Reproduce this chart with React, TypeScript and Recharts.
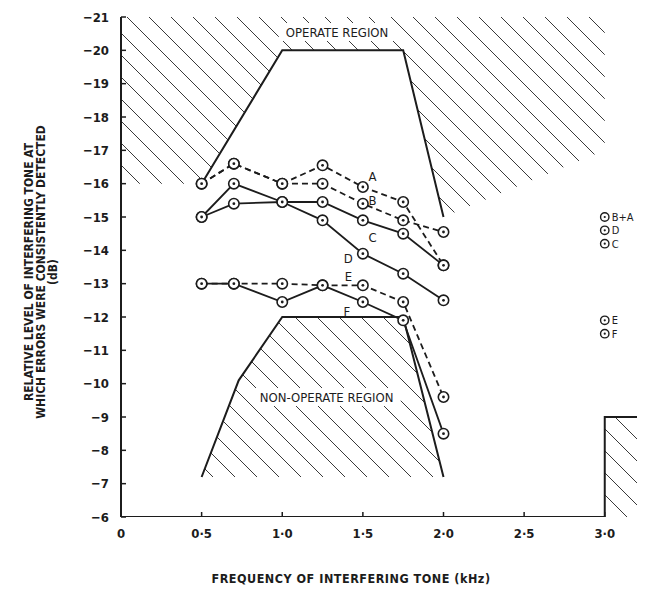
import { ComposedChart, Line, Area, XAxis, YAxis } from "recharts";

const INK = "#1c1c1c";
const FONT = "'DejaVu Sans Condensed', 'DejaVu Sans', sans-serif";

// measured frequencies (kHz)
const freqs = [0.5, 0.7, 1.0, 1.25, 1.5, 1.75, 2.0];

// level (dB) at which errors were consistently detected
const levelA = [-16, -16.6, -16, -16.55, -15.9, -15.45, -13.55];
const levelB = [-16, -16.6, -16, -16, -15.4, -14.9, -14.55];
const levelC = [-15, -15.4, -15.45, -15.45, -14.9, -14.5, -13.55];
const levelD = [-15, -16, -15.45, -14.9, -13.9, -13.3, -12.5];
const levelE = [-13, -13, -13, -12.95, -12.95, -12.45, -9.6];
const levelF = [-13, -13, -12.45, -12.95, -12.45, -11.9, -8.5];

// points at 3 kHz
const sideNames = ["B+A", "D", "C", "E", "F"];
const sideX = [3.0, 3.0, 3.0, 3.0, 3.0];
const sideY = [-15.0, -14.6, -14.2, -11.9, -11.5];

// curve letters
const letterNames = ["A", "B", "C", "D", "E", "F"];
const letterX = [1.56, 1.56, 1.56, 1.41, 1.41, 1.4];
const letterY = [-16.23, -15.49, -14.39, -13.76, -13.23, -12.16];

// region boundaries
const operateX = [0.5, 1.0, 1.75, 2.0];
const operateY = [-16, -20, -20, -15];
const upperHatchX = [0, 0.5, 1.0, 1.75, 2.0, 3.0];
const upperHatchY = [-16, -16, -20, -20, -15, -17];
const upperHatchTop = -21;
const nonOperateX = [0.5, 0.73, 1.0, 1.75, 2.0];
const nonOperateY = [-7.2, -10.1, -12, -12, -7.2];
const nonOperateBase = -7.2;
const stepX = [0, 3.0, 3.0, 3.2];
const stepY = [-6, -6, -9, -9];
const cornerX = [3.0, 3.2];
const cornerY = [-9, -9];
const cornerBase = -6;

const regionNames = ["OPERATE REGION", "NON-OPERATE REGION"];
const regionX = [1.34, 1.275];
const regionY = [-20.55, -9.6];

const xTicks = [0, 0.5, 1.0, 1.5, 2.0, 2.5, 3.0];
const yTicks = [-21, -20, -19, -18, -17, -16, -15, -14, -13, -12, -11, -10, -9, -8, -7, -6];

const pts = (xs: number[], ys: number[]) => xs.map((x, i) => ({ x, y: ys[i] }));
const band = (xs: number[], ys: number[], base: number) =>
  xs.map((x, i) => ({ x, range: [base, ys[i]] }));

const ringDot = (props: any) => {
  const { cx, cy, index } = props;
  if (cx == null || cy == null) return <g key={`n-${index}`} />;
  return (
    <g key={`r-${index}`}>
      <circle cx={cx} cy={cy} r={5.2} fill="#fff" stroke={INK} strokeWidth={1.6} />
      <circle cx={cx} cy={cy} r={1.4} fill={INK} />
    </g>
  );
};

const sideDot = (props: any) => {
  const { cx, cy, index, payload } = props;
  return (
    <g key={`s-${index}`}>
      <circle cx={cx} cy={cy} r={4.2} fill="#fff" stroke={INK} strokeWidth={1.4} />
      <circle cx={cx} cy={cy} r={1.1} fill={INK} />
      <text x={cx + 7} y={cy} dy="0.36em" fontSize={11} fontFamily={FONT} fill={INK}>
        {payload.name}
      </text>
    </g>
  );
};

const letterDot = (props: any) => {
  const { cx, cy, index, payload } = props;
  return (
    <text key={`l-${index}`} x={cx} y={cy} dy="0.36em" textAnchor="middle" fontSize={13} fontFamily={FONT} fill={INK}>
      {payload.name}
    </text>
  );
};

const regionDot = (props: any) => {
  const { cx, cy, index, payload } = props;
  const w = payload.name.length * 7.9 + 6;
  return (
    <g key={`g-${index}`}>
      <rect x={cx - w / 2} y={cy - 9} width={w} height={18} fill="#fff" />
      <text x={cx} y={cy} dy="0.36em" textAnchor="middle" fontSize={13} fontFamily={FONT} fill={INK}>
        {payload.name}
      </text>
    </g>
  );
};

const renderYTick = (props: any) => {
  const { x, y, payload } = props;
  return (
    <g key={`yt-${payload.value}`}>
      <line x1={x} y1={y} x2={x + 5} y2={y} stroke={INK} strokeWidth={1.5} />
      <text x={x - 12} y={y} dy="0.36em" textAnchor="end" fontSize={13} fontWeight="bold" fontFamily={FONT} fill={INK}>
        {`\u2212${Math.abs(payload.value)}`}
      </text>
    </g>
  );
};

const renderXTick = (props: any) => {
  const { x, y, payload } = props;
  const v = payload.value;
  const label = v === 0 ? "0" : v.toFixed(1).replace(".", "\u00b7");
  return (
    <g key={`xt-${v}`}>
      <line x1={x} y1={y} x2={x} y2={y - 5} stroke={INK} strokeWidth={1.5} />
      <text x={x} y={y + 16} dy="0.36em" textAnchor="middle" fontSize={13} fontWeight="bold" fontFamily={FONT} fill={INK}>
        {label}
      </text>
    </g>
  );
};

export default function App() {
  const series = [
    { key: "A", ys: levelA, dash: "6 4" },
    { key: "B", ys: levelB, dash: "6 4" },
    { key: "C", ys: levelC, dash: undefined },
    { key: "D", ys: levelD, dash: undefined },
    { key: "E", ys: levelE, dash: "6 4" },
    { key: "F", ys: levelF, dash: undefined },
  ];
  const sideData = sideNames.map((name, i) => ({ name, x: sideX[i], y: sideY[i] }));
  const letterData = letterNames.map((name, i) => ({ name, x: letterX[i], y: letterY[i] }));
  const regionData = regionNames.map((name, i) => ({ name, x: regionX[i], y: regionY[i] }));

  return (
    <div style={{ position: "relative", width: 637, height: 581, fontFamily: FONT, color: INK }}>
      <ComposedChart width={637} height={581} margin={{ top: 9, right: 8, bottom: 0, left: 0 }}>
        <defs>
          <pattern id="hatch" patternUnits="userSpaceOnUse" width={22} height={22}>
            <path d="M-2,-2 L24,24 M-2,20 L2,24 M20,-2 L24,2" stroke="#3a3a3a" strokeWidth={1} />
          </pattern>
        </defs>
        <XAxis
          type="number"
          dataKey="x"
          domain={[0, 3.2]}
          ticks={xTicks}
          axisLine={false}
          tickLine={false}
          tickSize={0}
          tickMargin={0}
          height={72}
          tick={renderXTick}
          allowDataOverflow
        />
        <YAxis
          type="number"
          domain={[-21, -6]}
          reversed
          ticks={yTicks}
          width={113}
          axisLine={{ stroke: INK, strokeWidth: 2 }}
          tickLine={false}
          tickSize={0}
          tickMargin={0}
          tick={renderYTick}
          interval={0}
          allowDataOverflow
        />
        <Area data={band(upperHatchX, upperHatchY, upperHatchTop)} dataKey="range" type="linear" stroke="none" fill="url(#hatch)" fillOpacity={1} isAnimationActive={false} />
        <Area data={band(nonOperateX, nonOperateY, nonOperateBase)} dataKey="range" type="linear" stroke="none" fill="url(#hatch)" fillOpacity={1} isAnimationActive={false} />
        <Area data={band(cornerX, cornerY, cornerBase)} dataKey="range" type="linear" stroke="none" fill="url(#hatch)" fillOpacity={1} isAnimationActive={false} />
        <Line data={regionData} dataKey="y" stroke="none" dot={regionDot} activeDot={false} isAnimationActive={false} />
        <Line data={pts(operateX, operateY)} dataKey="y" type="linear" stroke={INK} strokeWidth={2} dot={false} isAnimationActive={false} />
        <Line data={pts(nonOperateX, nonOperateY)} dataKey="y" type="linear" stroke={INK} strokeWidth={2} dot={false} isAnimationActive={false} />
        <Line data={pts(stepX, stepY)} dataKey="y" type="linear" stroke={INK} strokeWidth={2} dot={false} isAnimationActive={false} />
        {series.map((s) => (
          <Line
            key={s.key}
            data={pts(freqs, s.ys)}
            dataKey="y"
            type="linear"
            stroke={INK}
            strokeWidth={1.8}
            strokeDasharray={s.dash}
            dot={ringDot}
            activeDot={false}
            isAnimationActive={false}
          />
        ))}
        <Line data={letterData} dataKey="y" stroke="none" dot={letterDot} activeDot={false} isAnimationActive={false} />
        <Line data={sideData} dataKey="y" stroke="none" dot={sideDot} activeDot={false} isAnimationActive={false} />
      </ComposedChart>
      <div
        style={{
          position: "absolute",
          left: 33,
          top: 264,
          transform: "translate(-50%, -50%) rotate(-90deg)",
          whiteSpace: "nowrap",
          textAlign: "center",
          fontSize: 12,
          fontWeight: "bold",
          lineHeight: "12px",
        }}
      >
        RELATIVE LEVEL OF INTERFERING TONE AT
        <br />
        WHICH ERRORS WERE CONSISTENTLY DETECTED
        <br />
        (dB)
      </div>
      <div
        style={{
          position: "absolute",
          left: 343,
          top: 570,
          transform: "translate(-50%, -50%)",
          whiteSpace: "nowrap",
          fontSize: 12.5,
          fontWeight: "bold",
          letterSpacing: 0.5,
        }}
      >
        FREQUENCY OF INTERFERING TONE (kHz)
      </div>
    </div>
  );
}
